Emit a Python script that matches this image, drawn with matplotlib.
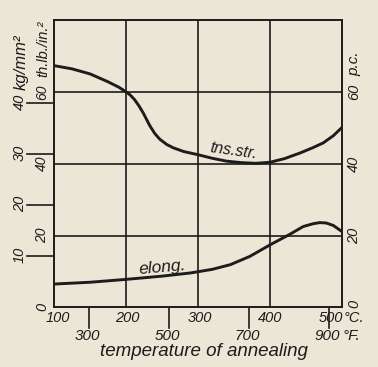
import matplotlib
matplotlib.use("Agg")
import matplotlib.pyplot as plt
import numpy as np

# ---- data (temperatures in deg C, strength in 1000 lb/in^2, elongation in p.c.) ----
tns_temp = [100, 125, 150, 175, 190, 200, 206, 212, 218, 224, 233, 240, 247, 257, 266, 280,
            300, 320, 340, 360, 380, 400, 420, 442, 460, 474, 488, 500]
tns_str = [67.3, 66.4, 65.0, 62.8, 61.3, 60.0, 59.1, 57.8, 56.1, 54.1, 50.6, 48.4, 46.8, 45.3, 44.4, 43.4,
           42.5, 41.5, 40.7, 40.3, 40.1, 40.4, 41.4, 43.0, 44.5, 45.8, 47.8, 50.1]
el_temp = [100, 150, 200, 250, 290, 320, 345, 372, 400, 428, 446, 460, 469, 478, 488, 500]
elong = [6.5, 7.0, 7.8, 8.7, 9.6, 10.6, 11.9, 14.2, 17.4, 20.4, 22.5, 23.3, 23.6, 23.5, 22.8, 21.1]

c_ticks = [100, 200, 300, 400, 500]
c_labels = ["100", "200", "300", "400", "500"]
f_ticks = [300, 500, 700, 900]
f_labels = ["300", "500", "700", "900"]
lb_ticks = [20, 40, 60]
lb_labels = ["20", "40", "60"]
kg_ticks = [10, 20, 30, 40]
kg_labels = ["10", "20", "30", "40"]
pc_ticks = [0, 20, 40, 60]
pc_labels = ["0", "20", "40", "60"]
KG_TO_KLB = 1.4223

BG = "#ebe6d6"
INK = "#1c1c1c"
FONT = ["Liberation Sans", "DejaVu Sans"]

W, H = 378, 367
fig = plt.figure(figsize=(W / 100, H / 100), dpi=100, facecolor=BG)
L, R, T, B = 54, 342, 20, 307.4
ax = fig.add_axes([L / W, 1 - B / H, (R - L) / W, (B - T) / H])
ax.set_facecolor(BG)
ax.set_xlim(100, 500)
ax.set_ylim(0, 80)
ax.set_xticks([])
ax.set_yticks([])
for s in ax.spines.values():
    s.set_color(INK)
    s.set_linewidth(1.4)

for x in c_ticks[1:-1]:
    ax.axvline(x, color=INK, lw=1.2)
for y in lb_ticks:
    ax.axhline(y, color=INK, lw=1.2)

ax.plot(tns_temp, tns_str, color=INK, lw=2.1, solid_capstyle="round", solid_joinstyle="round")
ax.plot(el_temp, elong, color=INK, lw=2.1, solid_capstyle="round", solid_joinstyle="round")

tk = dict(family=FONT, style="italic", color=INK)

def fx(px):
    return (px - L) / (R - L)

def fy(py):
    return (B - py) / (B - T)

xt = ax.get_xaxis_transform()
yt = ax.get_yaxis_transform()

# curve labels
ax.text(fx(233), fy(151), "tns.str.", transform=ax.transAxes, rotation=-8,
        ha="center", va="center", fontsize=11.5, **tk)
ax.text(fx(162), fy(267), "elong.", transform=ax.transAxes, rotation=5,
        ha="center", va="center", fontsize=12.5, **tk)

# Celsius labels
c_off = [4, 1, 2, 0, -11]
for c, lab, o in zip(c_ticks, c_labels, c_off):
    ax.text(c + o / 0.72, fy(318), lab, transform=xt, ha="center", va="center", fontsize=10.5, **tk)
ax.text(fx(343.5), fy(318), "°C.", transform=ax.transAxes, ha="left", va="center", fontsize=10.5, **tk)

# Fahrenheit ticks and labels
for f, lab in zip(f_ticks, f_labels):
    c = (f - 32) * 5 / 9
    ax.plot([c, c], [0, fy(328)], transform=xt, color=INK, lw=1.2, clip_on=False)
    ax.text(c - 2 / 0.72, fy(336), lab, transform=xt, ha="center", va="center", fontsize=11, **tk)
ax.text(fx(343), fy(336), "°F.", transform=ax.transAxes, ha="left", va="center", fontsize=11, **tk)

ax.text(fx(204), fy(351), "temperature of annealing", transform=ax.transAxes,
        ha="center", va="center", fontsize=13.5, **tk)

# left: kg/mm^2 scale
for k, lab in zip(kg_ticks, kg_labels):
    v = k * KG_TO_KLB
    ax.plot([fx(27), 0], [v, v], transform=yt, color=INK, lw=1.2, clip_on=False)
    ax.text(fx(20), v + 0.4, lab, transform=yt, rotation=90, ha="center", va="center", fontsize=10.5, **tk)
ax.text(fx(21), fy(90), "kg/mm²", transform=ax.transAxes, rotation=90, ha="center", va="bottom",
        fontsize=12, **tk)

# left: 1000 lb/in^2 scale
for v, lab in zip(lb_ticks, lb_labels):
    ax.text(fx(42), v, lab, transform=yt, rotation=90, ha="center", va="center", fontsize=10, **tk)
ax.text(fx(43), fy(77), "th.lb./in.²", transform=ax.transAxes, rotation=90, ha="center", va="bottom",
        fontsize=10.5, **tk)
ax.text(fx(42), fy(307), "0", transform=ax.transAxes, rotation=90, ha="center", va="center", fontsize=10.5, **tk)

# right: p.c. scale
for v, lab in zip(pc_ticks, pc_labels):
    yy = v + 1.0 if v == 0 else v
    ax.text(fx(354), yy, lab, transform=yt, rotation=90, ha="center", va="center", fontsize=10.5, **tk)
ax.text(fx(354), fy(76), "p.c.", transform=ax.transAxes, rotation=90, ha="center", va="bottom",
        fontsize=11, **tk)

fig.savefig("out.png", dpi=100, facecolor=BG)
